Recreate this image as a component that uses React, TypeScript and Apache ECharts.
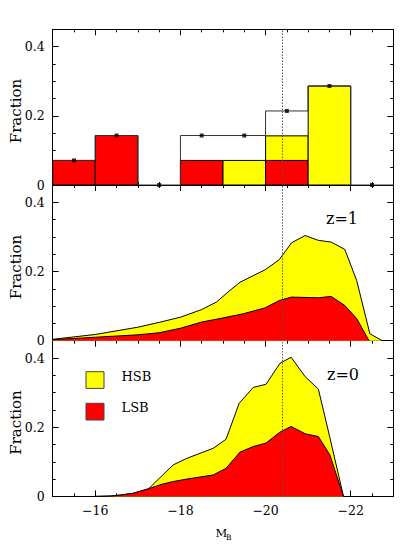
import React, { useEffect, useRef } from "react";
import * as echarts from "echarts";

// ---------- axis ranges & ticks ----------
const X_MIN = -23;
const X_MAX = -15;
const Y_MIN = 0;
const Y_MAX = 0.45;
const xMajorTicks = [-22, -20, -18, -16];
const xMinorTicks = [-22.5, -21.5, -21, -20.5, -19.5, -19, -18.5, -17.5, -17, -16.5, -15.5];
const yMajorTicks = [0, 0.2, 0.4];
const yMinorTicks = [0.05, 0.1, 0.15, 0.25, 0.3, 0.35];
const dividingMag = -20.4;

// ---------- panel 1: histogram (fractions) ----------
const histBinCenters = [-15.5, -16.5, -17.5, -18.5, -19.5, -20.5, -21.5, -22.5];
const histLSB = [0.071, 0.143, 0, 0.071, 0, 0.071, 0, 0];
const histHSB = [0, 0, 0, 0, 0.071, 0.071, 0.286, 0];
const histTotal = [0.071, 0.143, 0, 0.143, 0.143, 0.214, 0.286, 0];

// ---------- panel 2: z=1 ----------
const z1TotalMag = [-15.0, -16.0, -17.0, -17.5, -18.0, -18.5, -18.85, -19.16, -19.4, -19.99, -20.32, -20.61, -20.93, -21.24, -21.54, -21.86, -22.14, -22.45, -22.74];
const z1TotalFrac = [0.004, 0.018, 0.039, 0.053, 0.068, 0.09, 0.112, 0.145, 0.169, 0.205, 0.234, 0.283, 0.304, 0.29, 0.285, 0.264, 0.174, 0.02, 0];
const z1LsbMag = [-15.0, -16.0, -17.0, -17.5, -18.0, -18.5, -18.93, -19.48, -19.99, -20.32, -20.61, -21.24, -21.54, -21.86, -22.14, -22.43];
const z1LsbFrac = [0.003, 0.01, 0.017, 0.023, 0.036, 0.054, 0.064, 0.078, 0.095, 0.116, 0.126, 0.124, 0.128, 0.102, 0.064, 0];

// ---------- panel 3: z=0 ----------
const z0TotalMag = [-16.0, -16.35, -16.6, -16.89, -17.25, -17.83, -18.15, -18.77, -19.07, -19.38, -19.71, -20.01, -20.34, -20.6, -20.93, -21.24, -21.51, -21.83];
const z0TotalFrac = [0, 0.001, 0.004, 0.009, 0.022, 0.091, 0.11, 0.139, 0.165, 0.269, 0.315, 0.324, 0.385, 0.402, 0.346, 0.31, 0.17, 0];
const z0LsbMag = [-16.0, -16.35, -16.6, -16.89, -17.25, -17.56, -17.83, -18.15, -18.77, -19.07, -19.4, -19.71, -20.01, -20.34, -20.6, -20.93, -21.24, -21.51, -21.83];
const z0LsbFrac = [0, 0.001, 0.004, 0.009, 0.022, 0.035, 0.043, 0.05, 0.062, 0.081, 0.128, 0.144, 0.154, 0.186, 0.202, 0.181, 0.173, 0.12, 0];

const FONT = "DejaVu Serif";
const YELLOW = "#ffff00";
const RED = "#ff0000";

const GRID_LEFT = 52.7;
const GRID_WIDTH = 340.6;
const GRID_HEIGHT = 155.7;
const gridTops = [29.3, 185, 340.7];

function pairs(xs: number[], ys: number[]) {
  return xs.map((x, i) => [x, ys[i]]);
}

function xAxisDef(g: number, position: string, ticks: number[], len: number, major: boolean, labels: boolean) {
  return {
    type: "value",
    gridIndex: g,
    position,
    min: X_MIN,
    max: X_MAX,
    inverse: true,
    axisLine: { show: major, onZero: false, lineStyle: { color: "#000", width: 1 } },
    axisTick: { show: true, inside: true, length: len, customValues: ticks, lineStyle: { color: "#000", width: 1 } },
    axisLabel: labels
      ? {
          show: true,
          customValues: ticks,
          margin: 8,
          fontFamily: FONT,
          fontSize: 12.5,
          color: "#000",
          formatter: (v: number) => String(v).replace("-", "\u2212"),
        }
      : { show: false },
    splitLine: { show: false },
  };
}

function yAxisDef(g: number, position: string, ticks: number[], len: number, major: boolean, labels: boolean) {
  return {
    type: "value",
    gridIndex: g,
    position,
    min: Y_MIN,
    max: Y_MAX,
    axisLine: { show: major, onZero: false, lineStyle: { color: "#000", width: 1 } },
    axisTick: { show: true, inside: true, length: len, customValues: ticks, lineStyle: { color: "#000", width: 1 } },
    axisLabel: labels
      ? {
          show: true,
          customValues: ticks,
          margin: 8,
          fontFamily: FONT,
          fontSize: 12.5,
          color: "#000",
          formatter: (v: number) => (v === 0 ? "0" : String(v)),
        }
      : { show: false },
    splitLine: { show: false },
  };
}

const markLineDef = {
  silent: true,
  symbol: ["none", "none"],
  label: { show: false },
  emphasis: { disabled: true },
  lineStyle: { color: "#555", type: [1.5, 1.5], width: 1 },
  data: [{ xAxis: dividingMag }],
};

export default function App() {
  const ref = useRef<HTMLDivElement>(null);

  useEffect(() => {
    if (!ref.current) return;
    const chart = echarts.init(ref.current, null, { renderer: "svg" });

    const xAxes: any[] = [];
    const yAxes: any[] = [];
    for (let g = 0; g < 3; g++) {
      xAxes.push(xAxisDef(g, "bottom", xMajorTicks, 6, true, g === 2));
      xAxes.push(xAxisDef(g, "bottom", xMinorTicks, 3, false, false));
      xAxes.push(xAxisDef(g, "top", xMajorTicks, 6, true, false));
      xAxes.push(xAxisDef(g, "top", xMinorTicks, 3, false, false));
      yAxes.push(yAxisDef(g, "left", yMajorTicks, 6, true, true));
      yAxes.push(yAxisDef(g, "left", yMinorTicks, 3, false, false));
      yAxes.push(yAxisDef(g, "right", yMajorTicks, 6, true, false));
      yAxes.push(yAxisDef(g, "right", yMinorTicks, 3, false, false));
    }

    const stepData = histBinCenters.map((c, i) => [c + 0.5, histTotal[i]]);
    stepData.push([X_MIN, histTotal[histTotal.length - 1]]);

    const series: any[] = [
      {
        type: "custom",
        xAxisIndex: 0,
        yAxisIndex: 0,
        data: histBinCenters.map((c, i) => [c, histLSB[i], histHSB[i]]),
        encode: { x: 0, y: 1 },
        renderItem: (_p: any, api: any) => {
          const c = api.value(0);
          const l = api.value(1);
          const h = api.value(2);
          const a = api.coord([c - 0.5, 0]);
          const b = api.coord([c + 0.5, 0]);
          const x0 = Math.min(a[0], b[0]);
          const w = Math.abs(b[0] - a[0]);
          const y0 = a[1];
          const y1 = api.coord([c, l])[1];
          const y2 = api.coord([c, l + h])[1];
          const children: any[] = [];
          if (l > 0)
            children.push({
              type: "rect",
              shape: { x: x0, y: y1, width: w, height: y0 - y1 },
              style: { fill: RED, stroke: "#000", lineWidth: 1 },
            });
          if (h > 0)
            children.push({
              type: "rect",
              shape: { x: x0, y: y2, width: w, height: y1 - y2 },
              style: { fill: YELLOW, stroke: "#000", lineWidth: 1 },
            });
          return { type: "group", children };
        },
        z: 2,
      },
      {
        type: "line",
        xAxisIndex: 0,
        yAxisIndex: 0,
        step: "end",
        data: stepData,
        symbol: "none",
        lineStyle: { color: "#333", width: 1 },
        z: 3,
      },
      {
        type: "scatter",
        xAxisIndex: 0,
        yAxisIndex: 0,
        data: histBinCenters.map((c, i) => [c, histTotal[i]]),
        symbol: "rect",
        symbolSize: 4,
        itemStyle: { color: "#000" },
        z: 4,
        markLine: markLineDef,
      },
      {
        type: "line",
        xAxisIndex: 4,
        yAxisIndex: 4,
        data: pairs(z1TotalMag, z1TotalFrac),
        symbol: "none",
        lineStyle: { color: "#000", width: 1 },
        areaStyle: { color: YELLOW, opacity: 1 },
        z: 2,
      },
      {
        type: "line",
        xAxisIndex: 4,
        yAxisIndex: 4,
        data: pairs(z1LsbMag, z1LsbFrac),
        symbol: "none",
        lineStyle: { color: "#000", width: 1 },
        areaStyle: { color: RED, opacity: 1 },
        z: 3,
        markLine: markLineDef,
      },
      {
        type: "line",
        xAxisIndex: 8,
        yAxisIndex: 8,
        data: pairs(z0TotalMag, z0TotalFrac),
        symbol: "none",
        lineStyle: { color: "#000", width: 1 },
        areaStyle: { color: YELLOW, opacity: 1 },
        z: 2,
      },
      {
        type: "line",
        xAxisIndex: 8,
        yAxisIndex: 8,
        data: pairs(z0LsbMag, z0LsbFrac),
        symbol: "none",
        lineStyle: { color: "#000", width: 1 },
        areaStyle: { color: RED, opacity: 1 },
        z: 3,
        markLine: markLineDef,
      },
    ];

    const fractionYs = [111, 267, 422.5];
    const txt = (text: string, x: number, y: number, size: number, align: string, extra: any = {}) => ({
      type: "text",
      x,
      y,
      ...extra,
      style: {
        text,
        fontFamily: FONT,
        fontSize: size,
        fill: "#000",
        align,
        textAlign: align,
        verticalAlign: "middle",
        textVerticalAlign: "middle",
      },
    });

    const graphic: any[] = [
      ...fractionYs.map((y) => txt("Fraction", 16, y, 15, "center", { rotation: Math.PI / 2 })),
      txt("z=1", 342, 218, 16, "center"),
      txt("z=0", 343, 374, 16, "center"),
      {
        type: "rect",
        shape: { x: 86, y: 371.7, width: 18, height: 16.7 },
        style: { fill: YELLOW, stroke: "#444", lineWidth: 1 },
      },
      {
        type: "rect",
        shape: { x: 86, y: 403.3, width: 18, height: 16.7 },
        style: { fill: RED, stroke: "#444", lineWidth: 1 },
      },
      txt("HSB", 121.5, 376, 13, "left"),
      txt("LSB", 121.5, 407.5, 13, "left"),
      txt("M", 215.5, 532.5, 11.5, "left"),
      txt("B", 226, 537.5, 7.5, "left"),
    ];

    chart.setOption({
      animation: false,
      backgroundColor: "#fff",
      textStyle: { fontFamily: FONT },
      grid: gridTops.map((top) => ({
        left: GRID_LEFT,
        top,
        width: GRID_WIDTH,
        height: GRID_HEIGHT,
        containLabel: false,
      })),
      xAxis: xAxes,
      yAxis: yAxes,
      series,
      graphic,
    });

    return () => chart.dispose();
  }, []);

  return (
    <div
      ref={ref}
      style={{ position: "fixed", left: 0, top: 0, width: 415, height: 553, background: "#fff" }}
    />
  );
}
